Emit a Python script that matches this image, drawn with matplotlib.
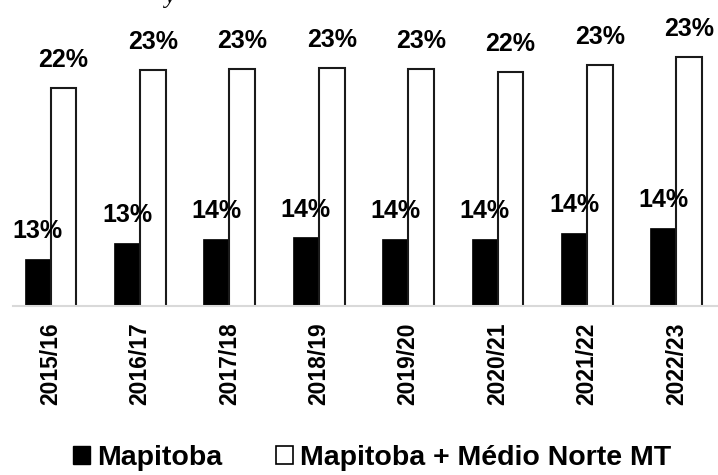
import numpy as np
import matplotlib
matplotlib.use('Agg')
import matplotlib.pyplot as plt
from matplotlib.patches import Patch

safras = ['2015/16', '2016/17', '2017/18', '2018/19', '2019/20', '2020/21', '2021/22', '2022/23']
mapitoba = [12.55, 13.41, 13.60, 13.69, 13.59, 13.59, 13.91, 14.17]
mapitoba_mt = [21.61, 22.55, 22.62, 22.67, 22.60, 22.43, 22.81, 23.23]

fonte = ['Liberation Sans', 'DejaVu Sans']

fig = plt.figure(figsize=(7.18, 4.75), dpi=100)
ax = fig.add_axes([13 / 718, 169 / 475, 705 / 718, 306 / 475])

x = np.arange(len(safras))
w = 0.29
b1 = ax.bar(x - w / 2, mapitoba, width=w, color='black', edgecolor='black', linewidth=0.5, zorder=2)
b2 = ax.bar(x + w / 2, mapitoba_mt, width=w, color='white', edgecolor='#1a1a1a', linewidth=1.5, zorder=2)

for bars in (b1, b2):
    for r in bars:
        v = r.get_height()
        ax.annotate('{:.0f}%'.format(v), (r.get_x() + r.get_width() / 2, v),
                    xytext=(0, 15), textcoords='offset points', ha='center', va='baseline',
                    fontsize=18, fontweight='bold', family=fonte, zorder=3,
                    annotation_clip=False)

ax.set_xlim(-0.4195, 7.466)
ax.set_ylim(10.06, 26.25)
ax.set_yticks([])
ax.set_xticks(x)
ax.set_xticklabels(safras, rotation=90, fontsize=16.5, fontweight='bold', family=fonte)
ax.tick_params(axis='x', length=0, pad=12)
for s in ['top', 'right', 'left']:
    ax.spines[s].set_visible(False)
ax.spines['bottom'].set_color('#d9d9d9')
ax.spines['bottom'].set_linewidth(1.5)

handles = [Patch(facecolor='black', edgecolor='black'),
           Patch(facecolor='white', edgecolor='black', linewidth=1.2)]
fig.legend(handles, ['Mapitoba', 'Mapitoba + Médio Norte MT'], loc='center',
           bbox_to_anchor=(372 / 718, 17 / 475), ncol=2, frameon=False,
           handlelength=0.6, handleheight=0.6, handletextpad=0.25, columnspacing=1.9,
           borderpad=0.2, prop={'family': fonte, 'weight': 'bold', 'size': 20.5})

# leftover of the caption line above the chart
fig.text(170 / 718, 1 - 3 / 475, 'y', family=['Liberation Serif', 'DejaVu Serif'],
         style='italic', fontsize=17, ha='center', va='baseline')

fig.savefig('out.png', dpi=100)
